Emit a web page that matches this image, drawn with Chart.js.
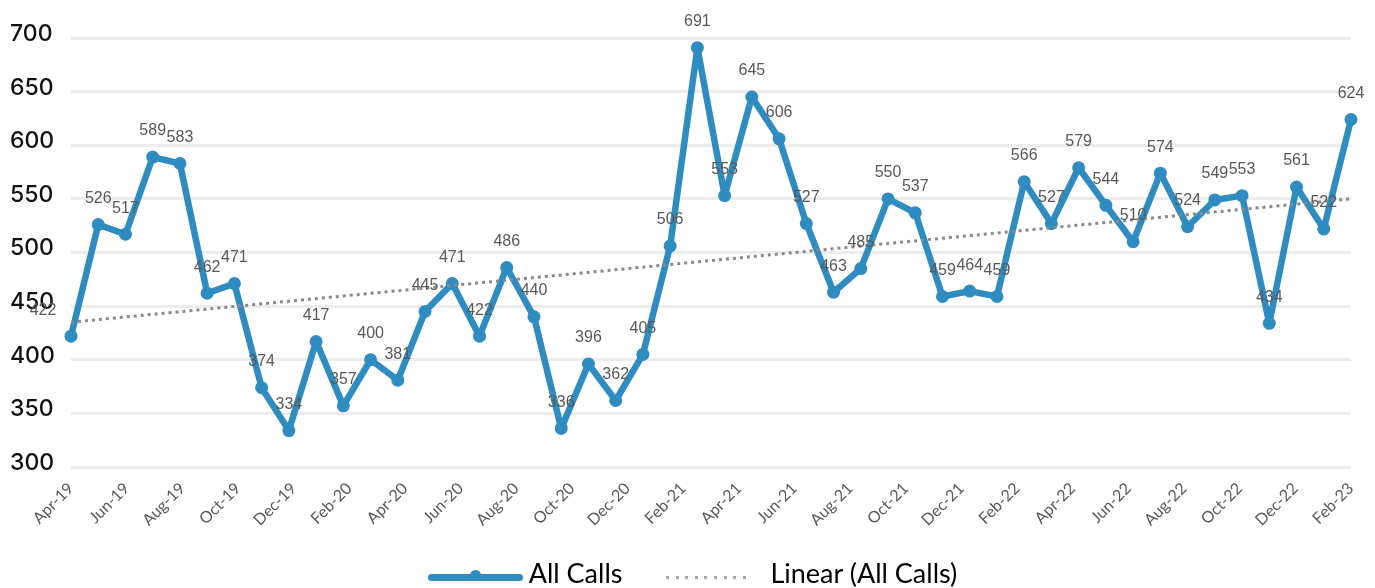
<!DOCTYPE html>
<html>
<head>
<meta charset="utf-8">
<title>All Calls</title>
<script src="https://cdn.jsdelivr.net/npm/chart.js@4.4.1/dist/chart.umd.min.js"></script>
<style>
  html, body { margin: 0; padding: 0; background: #fff; }
  #wrap { position: relative; width: 1375px; height: 588px; }
  #legend {
    position: absolute; left: 0; top: 558px; width: 1375px; box-sizing: border-box;
    padding-left: 10px; display: flex; justify-content: center;
    font: 27px Lato, sans-serif; color: #000; line-height: 30px;
  }
  #legend .item { display: inline-flex; align-items: center; margin: 0 22px; white-space: nowrap; }
  #legend .solid { position: relative; width: 95px; height: 7px; border-radius: 4px; background: #2f8cc1; margin-right: 6px; margin-top: 8px; }
  #legend .solid::after { content: ""; position: absolute; left: 42px; top: -4px; width: 11px; height: 11px; border-radius: 50%; background: #2f8cc1; }
  #legend .dotted { width: 86px; height: 3px; margin-right: 18px; margin-top: 8px;
    background: repeating-linear-gradient(to right, #a6a6a6 0 3px, transparent 3px 9.6px); }
</style>
</head>
<body>
<div id="wrap">
  <canvas id="callsChart"></canvas>
  <div id="legend"></div>
</div>
<script>
// monthly call volumes, Apr-19 .. (48 points)
const allCalls = [422, 526, 517, 589, 583, 462, 471, 374, 334, 417,
  357, 400, 381, 445, 471, 422, 486, 440, 336, 396,
  362, 405, 506, 691, 553, 645, 606, 527, 463, 485,
  550, 537, 459, 464, 459, 566, 527, 579, 544, 510,
  574, 524, 549, 553, 434, 561, 522, 624];

// every second month is labelled on the axis
const tickLabels = ["Apr-19", "Jun-19", "Aug-19", "Oct-19", "Dec-19", "Feb-20",
  "Apr-20", "Jun-20", "Aug-20", "Oct-20", "Dec-20", "Feb-21",
  "Apr-21", "Jun-21", "Aug-21", "Oct-21", "Dec-21", "Feb-22",
  "Apr-22", "Jun-22", "Aug-22", "Oct-22", "Dec-22", "Feb-23"];

// trend line, start and end value
const trendEnds = [435, 550];

const yMin = 300;
const yMax = 700;
const yStep = 50;

const blue = "#2f8cc1";
const lastIdx = allCalls.length - 1;

// value labels above each point
const pointLabels = {
  id: "pointLabels",
  afterDatasetsDraw(chart) {
    const ctx = chart.ctx;
    const meta = chart.getDatasetMeta(0);
    ctx.save();
    ctx.font = '16px "Liberation Sans", Arial, sans-serif';
    ctx.fillStyle = "#595959";
    ctx.textAlign = "center";
    ctx.textBaseline = "middle";
    meta.data.forEach((pt, i) => {
      const dx = i === 0 ? -28 : 0;
      ctx.fillText(String(allCalls[i]), pt.x + dx, pt.y - 26);
    });
    ctx.restore();
  }
};

const chart = new Chart(document.getElementById("callsChart"), {
  type: "line",
  data: {
    datasets: [
      {
        label: "All Calls",
        data: allCalls.map((v, i) => ({ x: i, y: v })),
        borderColor: blue,
        backgroundColor: blue,
        borderWidth: 6.5,
        borderJoinStyle: "round",
        pointRadius: 6.5,
        pointBackgroundColor: blue,
        pointBorderWidth: 0,
        tension: 0,
        clip: false,
        order: 1,
      },
      {
        label: "Linear (All Calls)",
        data: [{ x: 0, y: trendEnds[0] }, { x: lastIdx, y: trendEnds[1] }],
        borderColor: "#8a8a8a",
        borderWidth: 3,
        borderDash: [3, 4],
        pointRadius: 0,
        fill: false,
        order: 0,
      },
    ],
  },
  options: {
    responsive: true,
    maintainAspectRatio: false,
    animation: false,
    layout: {
      padding: { top: 38, left: 10, right: 24, bottom: 61 },
    },
    plugins: {
      legend: { display: false },
      tooltip: { enabled: false },
    },
    scales: {
      x: {
        type: "linear",
        min: 0,
        max: lastIdx,
        grid: { display: false },
        border: { display: false },
        afterBuildTicks: (axis) => {
          axis.ticks = tickLabels.map((t, i) => ({ value: i * lastIdx / (tickLabels.length - 1) }));
        },
        afterFit: (axis) => { axis.height = 60; },
        ticks: {
          autoSkip: false,
          minRotation: 45,
          maxRotation: 45,
          padding: 4,
          color: "#595959",
          font: { family: "Lato, sans-serif", size: 16 },
          callback: (value, index) => tickLabels[index],
        },
      },
      y: {
        min: yMin,
        max: yMax,
        border: { display: false },
        grid: { color: "#ececec", lineWidth: 3, drawTicks: false },
        afterFit: (axis) => { axis.width = 61; },
        ticks: {
          stepSize: yStep,
          crossAlign: "far",
          labelOffset: -4,
          color: "#111",
          font: { family: "Inter, Lato, sans-serif", size: 23, weight: "500" },
        },
      },
    },
  },
  plugins: [pointLabels],
});

// html legend built from the datasets
const legendBox = document.getElementById("legend");
chart.data.datasets.forEach((ds, i) => {
  const item = document.createElement("span");
  item.className = "item";
  const sw = document.createElement("span");
  sw.className = i === 0 ? "solid" : "dotted";
  item.appendChild(sw);
  item.appendChild(document.createTextNode(ds.label));
  legendBox.appendChild(item);
});
</script>
</body>
</html>
